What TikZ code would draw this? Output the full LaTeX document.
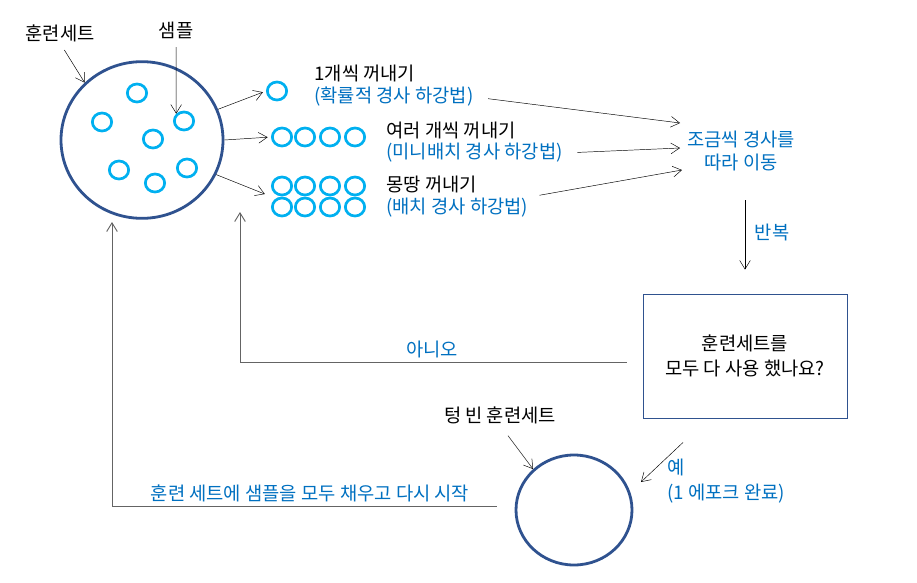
\documentclass[tikz,border=0pt]{standalone}
\usepackage{fontspec}
\newfontfamily\krfont{Noto Sans CJK KR}
\usetikzlibrary{arrows.meta,positioning,calc,shapes.geometric}
\definecolor{setblue}{RGB}{47,82,143}
\definecolor{samplecyan}{RGB}{0,176,240}
\definecolor{textblue}{RGB}{0,112,192}
\definecolor{loopgray}{RGB}{100,100,100}

\begin{document}
\begin{tikzpicture}[x=0.03cm,y=-0.03cm,>={Straight Barb[length=2.6mm,width=3.2mm]},
  every node/.style={font=\krfont\fontsize{16}{19}\selectfont,inner sep=1pt},
  desc/.style={anchor=west},
  bluetext/.style={text=textblue},
  sample/.style={draw=samplecyan,ellipse,line width=2.3pt,minimum width=0.58cm,minimum height=0.54cm,inner sep=0pt},
  dataset/.style={draw=setblue,ellipse,line width=2.4pt,inner sep=0pt},
  feedback/.style={->,draw=loopgray,line width=0.8pt}]
\useasboundingbox (0,0) rectangle (917,582);
\node[dataset,minimum width=4.86cm,minimum height=4.7cm] (trainset) at (142,140) {};
\foreach \px/\py [count=\i] in {137/93,102/122,184/121,153/139,119/170,187/168,155/183}
  \node[sample] (s\i) at (\px,\py) {};
\node (setlabel) at (60,33) {훈련세트};
\node (samplelabel) at (176,30) {샘플};
\draw[->,shorten <=0.25cm] (setlabel.south) -- (trainset.135);
\draw[->,shorten <=0.22cm] (samplelabel.south) -- (s3.north west);
\node[sample] (one) at (277,91) {};
\foreach \px [count=\i] in {282,305,330,355} {
  \node[sample] (m\i) at (\px,137) {};
  \node[sample] (b\i) at (\px,186) {};
  \node[sample] (c\i) at (\px,207) {};
}
\draw[->,shorten >=0.1cm] (trainset.22) -- (one.west);
\draw[->,shorten >=0.1cm] (trainset.east) -- (m1.west);
\draw[->,shorten >=0.2cm] (trainset.-25) -- ($(b1.west)!0.5!(c1.west)$);
\node[desc] (sgd) at (313,73) {1개씩 꺼내기};
\node[desc,bluetext] (sgdname) at (313,97) {(확률적 경사 하강법)};
\node[desc] (mini) at (385,130) {여러 개씩 꺼내기};
\node[desc,bluetext] (mininame) at (385,153) {(미니배치 경사 하강법)};
\node[desc] (batch) at (385,184) {몽땅 꺼내기};
\node[desc,bluetext] (batchname) at (385,208) {(배치 경사 하강법)};
\node[bluetext,align=center] (move) at (741,151) {조금씩 경사를\\따라 이동};
\coordinate (in1) at (680,123);
\coordinate (in2) at (680,148);
\coordinate (in3) at (682,170);
\draw[->,shorten <=0.4cm] (sgdname.east) -- (in1);
\draw[->,shorten <=0.4cm] (mininame.east) -- (in2);
\draw[->,shorten <=0.3cm] (batchname.north east) -- (in3);
\node[draw=setblue,line width=0.8pt,minimum width=6.12cm,minimum height=3.72cm,align=center] (check) at (745,356) {훈련세트를\\[2pt]모두 다 사용 했나요?};
\draw[->,shorten <=0.85cm,shorten >=0.72cm] (check.north |- move.south) -- (check.north);
\node[bluetext] (repeat) at (772,232) {반복};
\coordinate (noend) at (240,212);
\draw[feedback] ([xshift=-0.48cm,yshift=-0.18cm]check.west) -| (noend);
\node[bluetext] (nolabel) at (432,349) {아니오};
\node[dataset,minimum width=3.48cm,minimum height=3.3cm] (emptyset) at (574,510) {};
\node (emptylabel) at (500,415) {텅 빈 훈련세트};
\draw[->,shorten <=0.4cm] (emptylabel.south) -- (emptyset.135);
\coordinate (yestip) at (641,482);
\draw[->] ($(check.south)+(-62,24)$) -- (yestip);
\node[bluetext,align=left,anchor=west] (yes) at (666,481) {예\\[3pt](1 에포크 완료)};
\coordinate (restart) at (112,222);
\draw[feedback] ([xshift=-0.54cm,yshift=0.12cm]emptyset.west) -| (restart);
\node[bluetext] (restartlabel) at (310,493) {훈련 세트에 샘플을 모두 채우고 다시 시작};
\end{tikzpicture}
\end{document}
